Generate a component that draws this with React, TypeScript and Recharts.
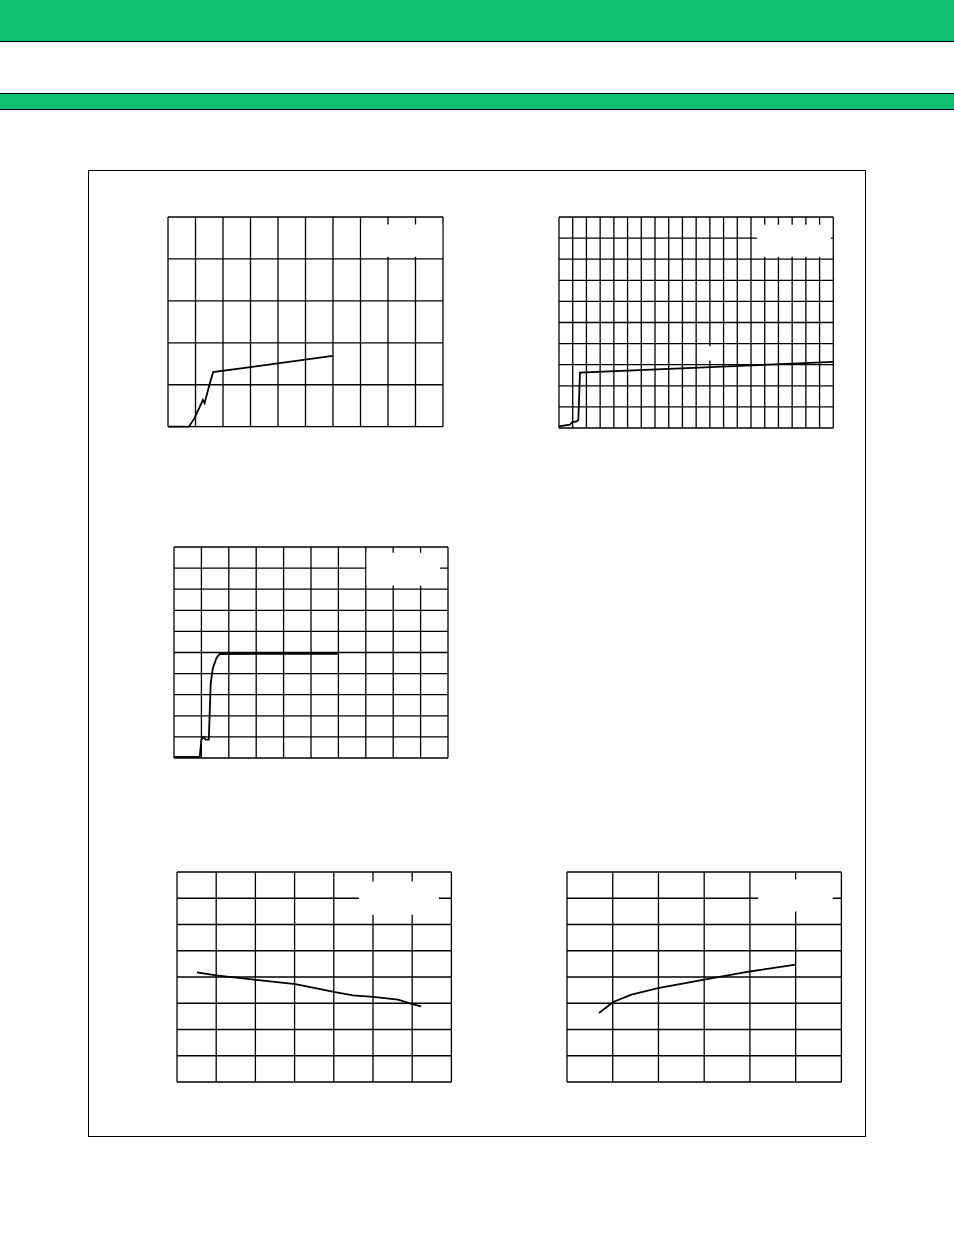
import { LineChart, Line, XAxis, YAxis, CartesianGrid, ReferenceArea } from 'recharts';

const GREEN = '#0fc070';

// grid divisions of each panel (x columns, y rows)
const divisions = [
  [10, 5],
  [20, 10],
  [10, 10],
  [7, 8],
  [6, 8],
];

// traces, in grid units
const p1X = [0, 0.76, 0.97, 1.27, 1.33, 1.49, 1.64, 5.99];
const p1Y = [0, 0, 0.21, 0.64, 0.56, 0.96, 1.3, 1.69];

const p2X = [0, 0.8, 0.97, 1.29, 1.41, 1.53, 20];
const p2Y = [0.08, 0.16, 0.28, 0.31, 0.39, 2.63, 3.13];

const p3X = [0, 0.94, 1.0, 1.09, 1.15, 1.27, 1.34, 1.42, 1.55, 1.67, 5.97];
const p3Y = [0.05, 0.05, 0.87, 1.0, 0.87, 0.87, 3.55, 4.27, 4.74, 4.93, 4.94];

const p4X = [0.51, 1.0, 2.02, 3.02, 4.0, 4.49, 5.0, 5.64, 6.0, 6.23];
const p4Y = [4.18, 4.06, 3.89, 3.73, 3.43, 3.3, 3.24, 3.14, 2.97, 2.88];

const p5X = [0.7, 1.01, 1.41, 1.99, 3.0, 4.0, 5.0];
const p5Y = [2.63, 3.05, 3.33, 3.58, 3.9, 4.21, 4.47];

// blank (legend / label) areas, [x1, x2, y1, y2]
const p1Blank = [[7.04, 9.97, 4.05, 4.82]];
const p2Blank = [
  [14.43, 19.83, 8.12, 9.63],
  [10.8, 11.2, 3.2, 3.87],
];
const p3Blank = [[7.03, 9.71, 8.17, 9.73]];
const p4Blank = [[4.64, 6.68, 6.37, 7.64]];
const p5Blank = [[4.18, 5.81, 6.5, 7.71]];

const M = 2;

function range(n: number) {
  return Array.from({ length: n + 1 }, (_, i) => i);
}

function Panel({ left, top, w, h, div, xs, ys, blanks }: any) {
  const data = xs.map((x: number, i: number) => ({ x, y: ys[i] }));
  const [nx, ny] = div;
  return (
    <div style={{ position: 'absolute', left: left - M, top: top - M }}>
      <LineChart width={w + 2 * M} height={h + 2 * M} data={data} margin={{ top: M, right: M, bottom: M, left: M }}>
        <CartesianGrid stroke="#000" strokeWidth={1.3} strokeOpacity={1} />
        <XAxis type="number" dataKey="x" domain={[0, nx]} ticks={range(nx)} interval={0} hide />
        <YAxis type="number" domain={[0, ny]} ticks={range(ny)} interval={0} hide />
        {blanks.map((b: number[], i: number) => (
          <ReferenceArea key={i} x1={b[0]} x2={b[1]} y1={b[2]} y2={b[3]} fill="#fff" fillOpacity={1} stroke="none" />
        ))}
        <Line
          type="linear"
          dataKey="y"
          stroke="#000"
          strokeWidth={1.8}
          dot={false}
          isAnimationActive={false}
        />
      </LineChart>
    </div>
  );
}

export default function App() {
  return (
    <div style={{ position: 'absolute', left: 0, top: 0, width: 954, height: 1235, background: '#fff' }}>
      <div style={{ position: 'absolute', left: 0, top: 0, width: 954, height: 41, background: GREEN, borderBottom: '1.5px solid #000' }} />
      <div
        style={{
          position: 'absolute',
          left: 0,
          top: 93,
          width: 954,
          height: 15,
          background: GREEN,
          borderTop: '1.5px solid #000',
          borderBottom: '1.5px solid #000',
        }}
      />
      <div style={{ position: 'absolute', left: 88, top: 170, width: 776, height: 965, border: '1px solid #000' }} />

      <Panel left={168.3} top={217.3} w={275} h={209.7} div={divisions[0]} xs={p1X} ys={p1Y} blanks={p1Blank} />
      <Panel left={559} top={217.3} w={274.3} h={211} div={divisions[1]} xs={p2X} ys={p2Y} blanks={p2Blank} />
      <Panel left={174.3} top={547.3} w={274} h={211} div={divisions[2]} xs={p3X} ys={p3Y} blanks={p3Blank} />
      <Panel left={177.3} top={872.3} w={274.4} h={210} div={divisions[3]} xs={p4X} ys={p4Y} blanks={p4Blank} />
      <Panel left={567.3} top={872.3} w={274.4} h={210} div={divisions[4]} xs={p5X} ys={p5Y} blanks={p5Blank} />
    </div>
  );
}
